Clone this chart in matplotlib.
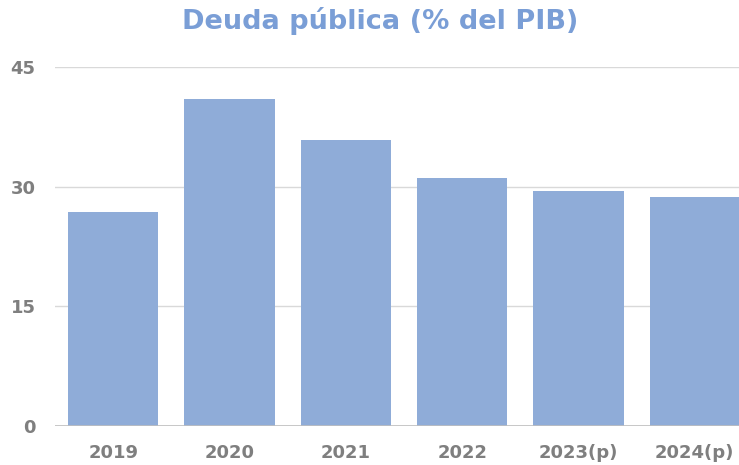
import matplotlib
matplotlib.use("Agg")
import matplotlib.pyplot as plt

years = ['2019', '2020', '2021', '2022', '2023(p)', '2024(p)']
deuda = [26.8, 41.0, 35.8, 31.1, 29.4, 28.7]
yticks = [0, 15, 30, 45]

fig = plt.figure(figsize=(7.39, 4.65), dpi=100)
ax = fig.add_axes([55 / 739, 39 / 465, 684 / 739, 359 / 465])

x = range(len(years))
ax.bar(x, deuda, width=0.775, color='#8FACD8', zorder=2)

ax.set_ylim(0, 45)
ax.set_xlim(-0.5, 5.38)
ax.set_yticks(yticks)
ax.set_yticklabels([str(t) for t in yticks])
ax.set_xticks(list(x))
ax.set_xticklabels(years)
ax.grid(axis='y', color='#d9d9d9', linewidth=1, zorder=0)
ax.axhline(0, color='#bfbfbf', linewidth=1.2, zorder=3)
for s in ax.spines.values():
    s.set_visible(False)
ax.tick_params(length=0, labelsize=13, labelcolor='#7f7f7f')
ax.tick_params(axis='y', pad=14)
ax.tick_params(axis='x', pad=13)
for lbl in ax.get_xticklabels() + ax.get_yticklabels():
    lbl.set_fontweight('bold')

fig.text(0.515, 0.955, 'Deuda pública (% del PIB)', ha='center', va='center',
         fontsize=19.5, fontweight='bold', color='#7A9ED6')

fig.savefig('out.png', dpi=100)
